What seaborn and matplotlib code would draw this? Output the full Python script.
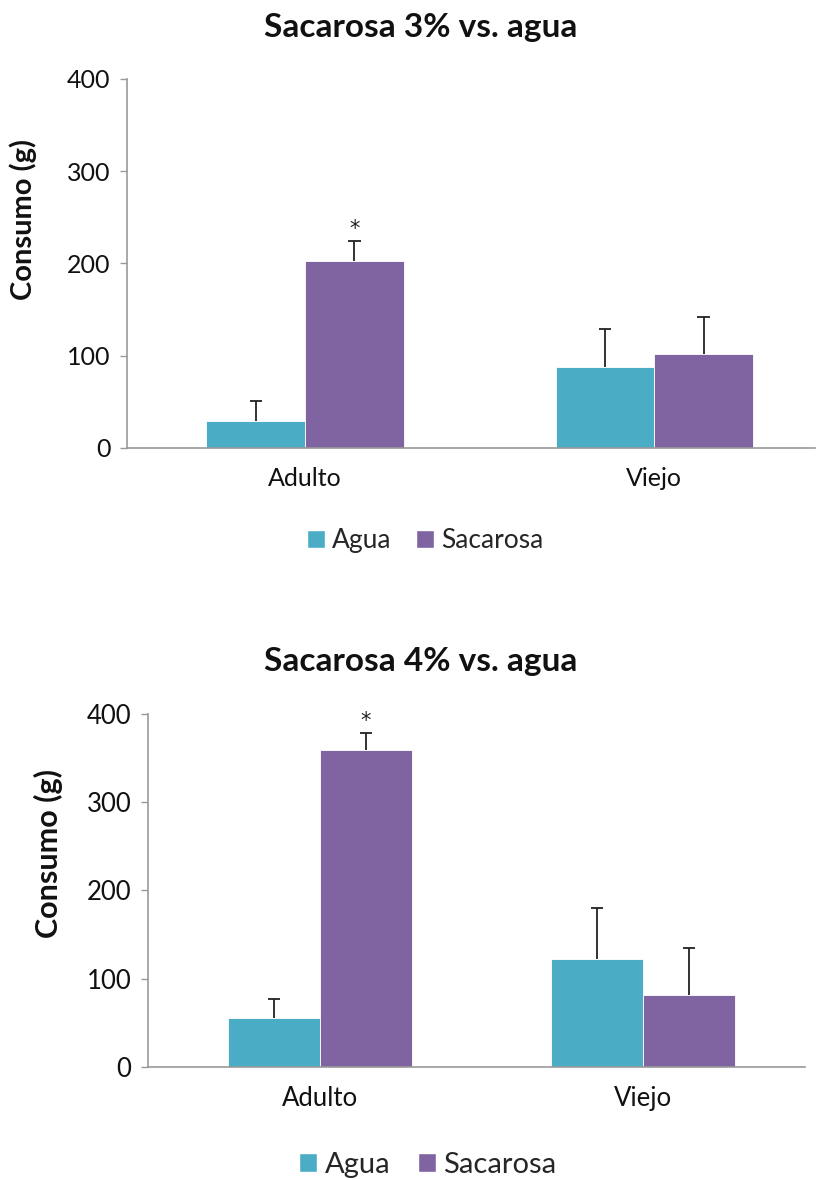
import matplotlib
matplotlib.use("Agg")
import matplotlib.pyplot as plt
import seaborn as sns
import pandas as pd
from matplotlib.patches import Patch

sns.set_theme(style="white")
plt.rcParams['font.family'] = ['Lato', 'DejaVu Sans']

categories = ["Adulto", "Viejo"]
series = ["Agua", "Sacarosa"]
colors = ["#4BACC6", "#8064A2"]

# Sacarosa 3%
top_agua = [29, 88]
top_sac = [202, 102]
top_agua_err = [22, 41]
top_sac_err = [22, 40]

# Sacarosa 4%
bot_agua = [56, 122]
bot_sac = [359, 81]
bot_agua_err = [21, 58]
bot_sac_err = [20, 54]

titles = ["Sacarosa 3% vs. agua", "Sacarosa 4% vs. agua"]
yticks = [0, 100, 200, 300, 400]

fig = plt.figure(figsize=(8.22, 11.8), dpi=100)

def panel(rect, agua, sac, agua_err, sac_err, xlim, width, title, title_y,
          ylab_xy, ylab_fs, leg_xy, leg_fs, tick_fs, hl, cs):
    ax = fig.add_axes(rect)
    df = pd.DataFrame({
        "cat": categories * 2,
        "serie": [series[0]] * 2 + [series[1]] * 2,
        "val": agua + sac,
        "err": agua_err + sac_err,
    })
    sns.barplot(data=df, x="cat", y="val", hue="serie", palette=colors,
                order=categories, hue_order=series, width=width,
                errorbar=None, ax=ax, saturation=1, edgecolor="white",
                linewidth=0.6, legend=False)
    ax.set_xlim(*xlim)
    # error bars (upper only) from the bar patches
    errs = agua_err + sac_err
    vals = agua + sac
    cap = 0.018 * (xlim[1] - xlim[0]) / 2.0
    for p, v, e in zip(ax.patches, vals, errs):
        xc = p.get_x() + p.get_width() / 2
        ax.vlines(xc, v, v + e, color="#222222", lw=1.3, zorder=3)
        ax.hlines(v + e, xc - cap, xc + cap, color="#222222", lw=1.3, zorder=3)
    # asterisk over Sacarosa Adulto
    p = ax.patches[2]
    ax.text(p.get_x() + p.get_width() / 2, sac[0] + sac_err[0] + 2, "*",
            ha="center", va="bottom", fontsize=15, color="#222222",
            family="DejaVu Sans")
    ax.set_ylim(0, 400)
    ax.set_yticks(yticks)
    ax.set_yticklabels([str(t) for t in yticks], fontsize=tick_fs, color="#111111")
    ax.tick_params(axis="x", length=0, labelsize=tick_fs, labelcolor="#111111", pad=14)
    ax.tick_params(axis="y", length=5, width=1, color="#999999", left=True, pad=7)
    ax.set_xlabel("")
    ax.set_ylabel("")
    for s in ["top", "right"]:
        ax.spines[s].set_visible(False)
    for s in ["left", "bottom"]:
        ax.spines[s].set_color("#999999")
        ax.spines[s].set_linewidth(1.2)
    fig.text(0.512, title_y, title, ha="center", va="center",
             fontsize=24, fontweight="bold", color="#111111")
    fig.text(ylab_xy[0], ylab_xy[1], "Consumo (g)", rotation=90,
             ha="center", va="center", fontsize=ylab_fs, fontweight="bold", color="#111111")
    handles = [Patch(facecolor=c, edgecolor="white", label=s) for c, s in zip(colors, series)]
    fig.legend(handles=handles, loc="center", bbox_to_anchor=leg_xy,
               ncol=2, frameon=False, fontsize=leg_fs, handlelength=hl,
               handleheight=hl, handletextpad=0.25, columnspacing=cs,
               borderpad=0, borderaxespad=0)
    return ax

panel([0.1545, 0.6206, 0.837, 0.3125], top_agua, top_sac, top_agua_err, top_sac_err,
      (-0.51, 1.46), 0.565, titles[0], 1 - 27 / 1180,
      (23 / 822, 1 - 220 / 1180), 21, (425 / 822, 1 - 541 / 1180), 19, 18, 0.69, 0.95)
panel([0.180, 0.0958, 0.799, 0.2991], bot_agua, bot_sac, bot_agua_err, bot_sac_err,
      (-0.532, 1.50), 0.57, titles[1], 1 - 662 / 1180,
      (48 / 822, 1 - 854 / 1180), 22, (428 / 822, 1 - 1165 / 1180), 21, 18.5, 0.62, 0.95)

fig.savefig("out.png", dpi=100)
